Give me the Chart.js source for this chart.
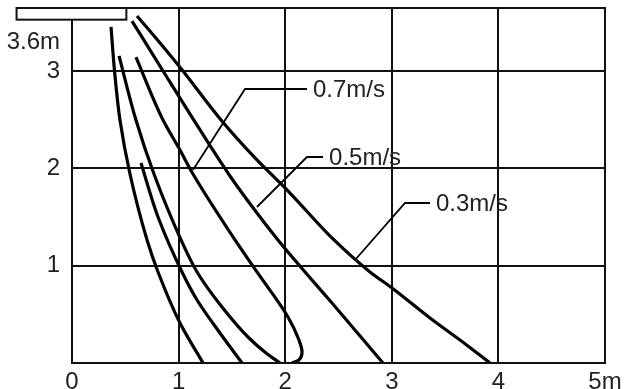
<!DOCTYPE html>
<html><head><meta charset="utf-8">
<style>html,body{margin:0;padding:0;background:#fff}#wrap{width:626px;height:389px}</style>
<script src="https://cdn.jsdelivr.net/npm/chart.js@4.4.1/dist/chart.umd.min.js"></script>
</head><body><div id="wrap"><canvas id="c" width="626" height="389"></canvas></div>
<script>
// ---- data (metres) ----
const xTickValues = [0, 1, 2, 3, 4, 5];
const xTickLabels = ['0', '1', '2', '3', '4', '5m'];
const yTickValues = [0, 1, 2, 3];
const yTickLabels = ['', '1', '2', '3'];
const heightLabel = '3.6m';
const heightLabelValue = 3.3;
const yMax = 3.65;

const curveA = [[0.366,3.455],[0.399,3.002],[0.450,2.498],[0.544,1.943],[0.704,1.265],[0.807,0.936],[1.013,0.411],[1.229,0]];
const curveB = [[0.441,3.157],[0.600,2.498],[0.769,1.943],[1.023,1.265],[1.173,0.936],[1.407,0.576],[1.660,0.257],[1.820,0.103],[1.951,0]];
const curveC = [[0.647,2.056],[0.807,1.501],[1.032,0.936],[1.173,0.648],[1.388,0.308],[1.595,0]];
const curveD = [[0.600,3.146],[0.854,2.498],[1.013,2.190],[1.135,1.943],[1.529,1.265],[1.735,0.936],[2.026,0.473],[2.129,0.236],[2.158,0.113],[2.129,0.031],[2.064,0]];
const curveE = [[0.563,3.516],[0.854,3.002],[1.201,2.396],[1.482,1.923],[1.707,1.583],[1.932,1.265],[2.186,0.936],[2.439,0.617],[2.917,0]];
const curveF = [[0.610,3.568],[0.826,3.290],[1.041,3.002],[1.398,2.498],[1.717,2.108],[2.036,1.758],[2.458,1.265],[2.795,0.936],[3.002,0.771],[3.358,0.463],[3.640,0.236],[3.921,0]];

const leaderLabels = ['0.7m/s', '0.5m/s', '0.3m/s'];
const leader07 = [[1.135,1.984],[1.623,2.817],[2.204,2.817]];
const leader05 = [[1.735,1.604],[2.204,2.118],[2.355,2.118]];
const leader03 = [[2.655,1.059],[3.124,1.645],[3.358,1.645]];

// ceiling unit outline (data coordinates)
const unitBoxX = [-0.52, 0.51];
const unitBoxY = [3.53, yMax];

// ---- build ----
const curves = [curveA, curveB, curveC, curveD, curveE, curveF];
const leaders = [leader07, leader05, leader03];
const toPts = arr => arr.map(p => ({x: p[0], y: p[1]}));
const FONT = '"Liberation Sans", Arial, Helvetica, sans-serif';
const INK = '#111';
const FSIZE = 24;

const datasets = [];
curves.forEach(c => datasets.push({data: toPts(c), showLine: true, borderColor: '#000', borderWidth: 3.2,
  pointRadius: 0, cubicInterpolationMode: 'monotone', indexAxis: 'y', fill: false}));
leaders.forEach(l => datasets.push({data: toPts(l), showLine: true, borderColor: '#000', borderWidth: 1.8,
  pointRadius: 0, tension: 0, fill: false}));

const decor = {
  id: 'decor',
  afterDraw(chart) {
    const {ctx, chartArea: a, scales: {x, y}} = chart;
    ctx.save();
    ctx.strokeStyle = INK; ctx.lineWidth = 2;
    ctx.strokeRect(a.left, a.top, a.right - a.left, a.bottom - a.top);
    const bx0 = x.getPixelForValue(unitBoxX[0]), bx1 = x.getPixelForValue(unitBoxX[1]);
    const by0 = y.getPixelForValue(unitBoxY[1]), by1 = y.getPixelForValue(unitBoxY[0]);
    ctx.fillStyle = '#fff';
    ctx.fillRect(bx0, by0, bx1 - bx0, by1 - by0);
    ctx.strokeRect(bx0, by0, bx1 - bx0, by1 - by0);
    ctx.font = FSIZE + 'px ' + FONT;
    ctx.fillStyle = '#222';
    ctx.textBaseline = 'middle';
    ctx.textAlign = 'left';
    leaders.forEach((l, i) => {
      const p = l[l.length - 1];
      ctx.fillText(leaderLabels[i], x.getPixelForValue(p[0]) + 6, y.getPixelForValue(p[1]) + 1);
    });
    ctx.textAlign = 'right';
    ctx.fillText(heightLabel, a.left - 12, y.getPixelForValue(heightLabelValue));
    ctx.restore();
  }
};

new Chart(document.getElementById('c'), {
  type: 'scatter',
  data: {datasets},
  options: {
    responsive: false, animation: false, devicePixelRatio: 1,
    layout: {padding: {top: 8, right: 21, left: 0, bottom: 0}},
    plugins: {legend: {display: false}, tooltip: {enabled: false}},
    scales: {
      x: {
        type: 'linear', position: 'bottom', min: 0, max: 5,
        afterBuildTicks: s => { s.ticks = xTickValues.map(v => ({value: v})); },
        afterFit: s => { s.height = 26; s.paddingLeft = 0; s.paddingRight = 0; },
        ticks: {font: {size: FSIZE, family: FONT}, color: '#222', padding: 5, maxRotation: 0, autoSkip: false,
                callback: v => xTickLabels[xTickValues.indexOf(v)]},
        grid: {color: INK, lineWidth: 2, drawTicks: false},
        border: {display: true, color: INK, width: 2}
      },
      y: {
        type: 'linear', position: 'left', min: 0, max: yMax,
        afterBuildTicks: s => { s.ticks = yTickValues.map(v => ({value: v})); },
        afterFit: s => { s.width = 72; s.paddingTop = 0; s.paddingBottom = 0; },
        ticks: {font: {size: FSIZE, family: FONT}, color: '#222', padding: 12, autoSkip: false,
                callback: v => yTickLabels[yTickValues.indexOf(v)]},
        grid: {color: INK, lineWidth: 2, drawTicks: false},
        border: {display: true, color: INK, width: 2}
      }
    }
  },
  plugins: [decor]
});
</script>
</body></html>
